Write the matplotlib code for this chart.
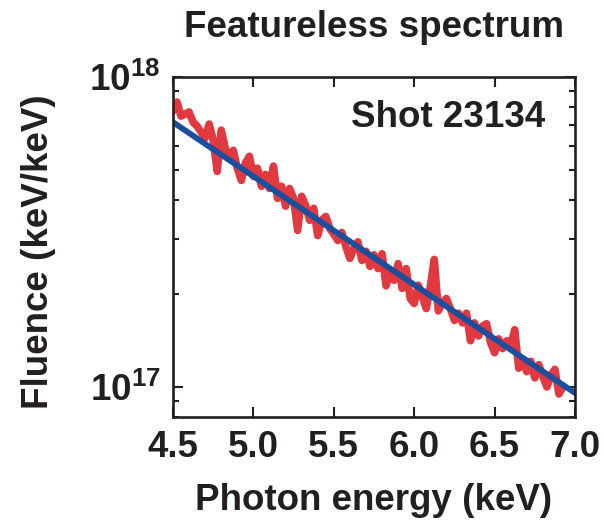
import numpy as np
import matplotlib
matplotlib.use("Agg")
import matplotlib.pyplot as plt
from matplotlib.ticker import LogLocator, NullFormatter, FixedLocator

# spectrum (fluence in units of 1e17 keV/keV)
energy = np.array([
    4.500, 4.525, 4.550, 4.575, 4.600, 4.625, 4.650, 4.675, 4.700, 4.725,
    4.750, 4.775, 4.800, 4.825, 4.850, 4.875, 4.900, 4.925, 4.950, 4.975,
    5.000, 5.025, 5.050, 5.075, 5.100, 5.125, 5.150, 5.175, 5.200, 5.225,
    5.250, 5.275, 5.300, 5.325, 5.350, 5.375, 5.400, 5.425, 5.450, 5.475,
    5.500, 5.525, 5.550, 5.575, 5.600, 5.625, 5.650, 5.675, 5.700, 5.725,
    5.750, 5.775, 5.800, 5.825, 5.850, 5.875, 5.900, 5.925, 5.950, 5.975,
    6.000, 6.025, 6.050, 6.075, 6.100, 6.125, 6.150, 6.175, 6.200, 6.225,
    6.250, 6.275, 6.300, 6.325, 6.350, 6.375, 6.400, 6.425, 6.450, 6.475,
    6.500, 6.525, 6.550, 6.575, 6.600, 6.625, 6.650, 6.675, 6.700, 6.725,
    6.750, 6.775, 6.800, 6.825, 6.850, 6.875, 6.900, 6.925,
])
fluence_e17 = np.array([
    7.82, 8.30, 7.48, 7.59, 7.71, 7.15, 6.94, 6.64, 6.35, 7.05,
    6.26, 4.96, 6.74, 5.89, 5.47, 5.80, 5.08, 4.64, 5.27, 5.55,
    4.78, 5.08, 4.44, 4.85, 4.37, 5.16, 4.06, 4.44, 3.83, 4.37,
    4.06, 3.20, 4.12, 3.85, 3.45, 3.77, 3.08, 3.45, 3.55, 3.25,
    3.11, 2.97, 3.15, 2.84, 2.60, 2.80, 2.94, 2.56, 2.74, 2.45,
    2.67, 2.41, 2.69, 2.12, 2.37, 2.21, 2.50, 2.08, 2.41, 1.93,
    1.86, 2.13, 1.96, 1.79, 2.10, 2.58, 1.76, 1.87, 1.93, 1.79,
    1.64, 1.73, 1.61, 1.73, 1.41, 1.61, 1.46, 1.57, 1.60, 1.39,
    1.29, 1.43, 1.33, 1.41, 1.36, 1.53, 1.15, 1.23, 1.12, 1.21,
    1.07, 1.18, 1.08, 1.00, 1.09, 1.14, 0.949, 1.00,
])
fluence = fluence_e17 * 1e17

# exponential fit (straight line on the log axis)
fit_energy = [4.5, 7.0]
fit_fluence = [7.15e17, 9.56e16]

x_ticks = [4.5, 5.0, 5.5, 6.0, 6.5, 7.0]
x_tick_labels = ["4.5", "5.0", "5.5", "6.0", "6.5", "7.0"]

ink = "#231f20"
plt.rcParams["font.family"] = ["Liberation Sans", "DejaVu Sans"]
plt.rcParams["font.weight"] = "bold"
plt.rcParams["mathtext.fontset"] = "custom"
plt.rcParams["mathtext.rm"] = "Liberation Sans:bold"
plt.rcParams["mathtext.it"] = "Liberation Sans:bold"
plt.rcParams["mathtext.bf"] = "Liberation Sans:bold"
plt.rcParams["mathtext.default"] = "regular"
plt.rcParams["text.color"] = ink
plt.rcParams["axes.labelcolor"] = ink

fig = plt.figure(figsize=(6.04, 5.25), dpi=100)
ax = fig.add_axes([0.2864, 0.2057, 0.6656, 0.6476])

ax.plot(energy, fluence, color="#e2383f", lw=5.5, solid_joinstyle="round")
ax.plot(fit_energy, fit_fluence, color="#1a4f9e", lw=4.2)

ax.set_yscale("log")
ax.set_xlim(4.5, 7.0)
ax.set_ylim(8.0e16, 1.0e18)

ax.xaxis.set_major_locator(FixedLocator(x_ticks))
ax.set_xticklabels(x_tick_labels)
ax.yaxis.set_major_locator(LogLocator(base=10, numticks=5))
ax.yaxis.set_minor_locator(LogLocator(base=10, subs=np.arange(2, 10), numticks=10))
ax.yaxis.set_minor_formatter(NullFormatter())

for s in ax.spines.values():
    s.set_linewidth(1.9)
    s.set_color(ink)
ax.tick_params(which="both", direction="in", top=True, right=True,
               colors=ink, width=1.5, labelsize=26.5)
ax.tick_params(which="major", length=7, pad=9)
ax.tick_params(which="minor", length=4.5)

ax.set_xlabel("Photon energy (keV)", fontsize=26.5, fontweight="bold")
ax.set_ylabel("Fluence (keV/keV)", fontsize=26.5, fontweight="bold")
ax.xaxis.set_label_coords(0.5, -0.195)
ax.yaxis.set_label_coords(-0.29, 0.485)
ax.set_title("Featureless spectrum", fontsize=26.5, fontweight="bold", pad=29)

ax.text(0.925, 0.882, "Shot 23134", transform=ax.transAxes, ha="right",
        va="center", fontsize=26.5, fontweight="bold")

fig.savefig("out.png", dpi=100)
